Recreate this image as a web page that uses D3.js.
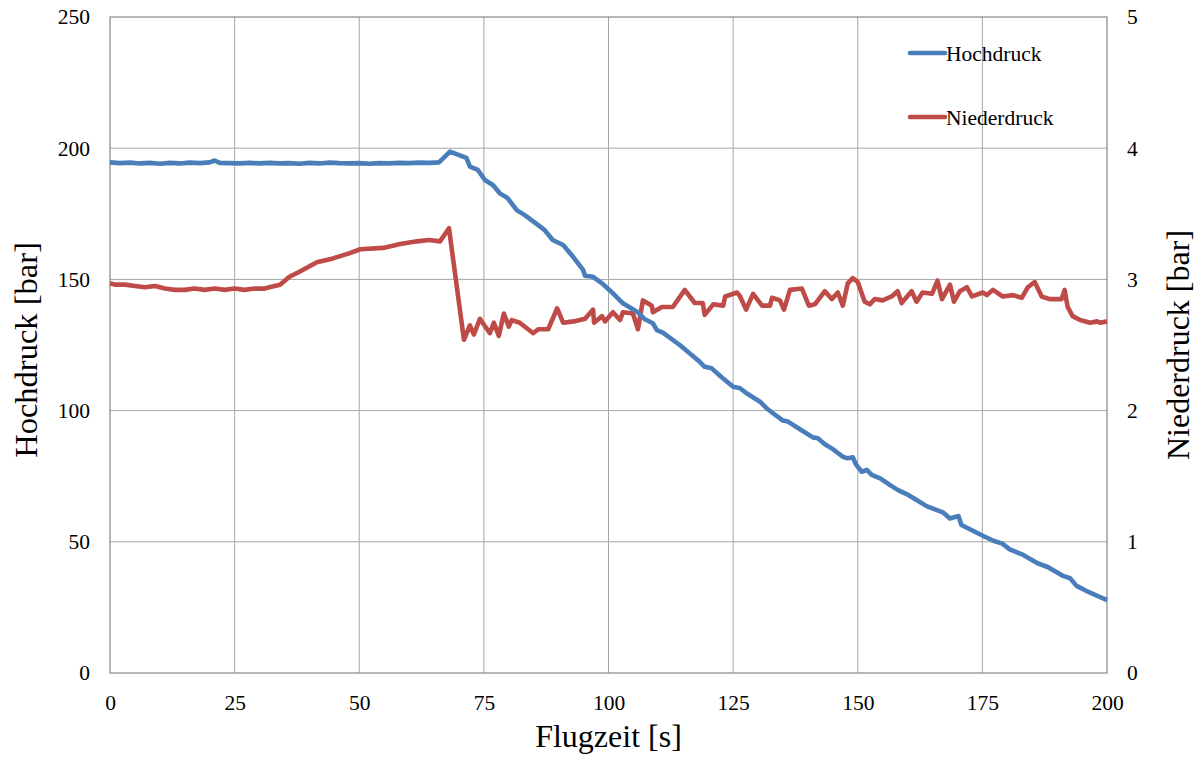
<!DOCTYPE html>
<html>
<head>
<meta charset="utf-8">
<script src="https://cdn.jsdelivr.net/npm/d3@7"></script>
<style>
  body { margin: 0; background: #fff; }
  text { font-family: "Liberation Serif", "Times New Roman", serif; fill: #000; }
</style>
</head>
<body>
<svg id="drawing_region"></svg>
<script>
// Hochdruck (left axis, bar)
const hochTime = [0, 2, 4, 6, 8, 10, 12, 14, 16, 18, 20, 21, 22, 24, 26, 28, 30, 32, 34, 36, 38, 40,
    42, 44, 46, 48, 50, 52, 54, 56, 58, 60, 62, 64, 66, 68.2, 71.5, 72.2, 73.8, 75.2, 76.8, 78.2,
    79.8, 81.6, 83.2, 85.9, 87.2, 88.8, 90.9, 92.9, 94.9, 95.3, 96.9, 98.7, 100.9, 102.9, 105.7,
    107.3, 108.9, 109.7, 110.9, 114.3, 116.5, 118.3, 119.3, 120.7, 122.7, 125, 126.4, 127.7, 130.4,
    131.7, 133, 135, 136, 138.4, 141, 142, 143.4, 145, 147, 148, 149, 149.7, 150.8, 151.8, 152.8,
    154.5, 156.5, 158.1, 159.8, 161.8, 163.8, 167.2, 168.5, 170.2, 170.8, 172.5, 175.2, 177.2,
    178.9, 180.5, 183.2, 185.9, 188.2, 191.2, 192.6, 193.9, 196.6, 200];
const hochValues = [194.6, 194.3, 194.5, 194.2, 194.4, 194.1, 194.4, 194.2, 194.5, 194.3, 194.6, 195.3,
    194.4, 194.3, 194.2, 194.4, 194.2, 194.4, 194.2, 194.3, 194.1, 194.4, 194.2, 194.5, 194.3, 194.2,
    194.3, 194.1, 194.3, 194.2, 194.4, 194.3, 194.5, 194.4, 194.6, 198.7, 196.3, 193.0, 191.7, 187.9,
    186.0, 182.8, 180.9, 176.4, 174.5, 170.7, 168.8, 165.0, 163.1, 158.6, 153.6, 151.4, 151.0, 148.5,
    144.7, 140.9, 137.7, 134.8, 133.3, 130.7, 129.7, 125.0, 121.5, 118.6, 116.7, 116.1, 112.7, 109.1,
    108.5, 106.6, 103.4, 100.9, 99.0, 96.2, 95.8, 92.9, 89.8, 89.5, 87.2, 85.3, 82.4, 81.8, 82.2,
    79.3, 76.7, 77.4, 75.5, 74.2, 71.6, 69.7, 68.2, 65.9, 63.6, 61.1, 58.9, 59.8, 56.4, 54.8, 52.2,
    50.4, 49.4, 47.1, 45.0, 42.0, 40.3, 37.0, 36.1, 33.2, 30.6, 27.8];

// Niederdruck (right axis, bar)
const niederTime = [0, 1, 3, 5, 7, 9, 11, 13, 15, 17, 19, 21, 23, 25, 27, 29, 31, 33, 34.1, 36, 38.1,
    41.5, 44.7, 48.1, 50.2, 54.8, 58.2, 61.6, 64, 66.2, 68, 71, 72.2, 73, 74.2, 76.2, 77, 78, 79, 80,
    80.6, 82.2, 84.9, 85.9, 87.9, 89.7, 90.9, 93, 95.3, 96.9, 97.1, 98.7, 99.3, 100.9, 102.3, 102.9,
    104.9, 105.9, 106.9, 108.7, 108.9, 110.7, 112.9, 115.3, 117.3, 118.9, 119.3, 121, 123, 123.4,
    125.8, 126.4, 127.6, 129, 130.8, 132.4, 132.8, 134.4, 135.2, 136.4, 138.8, 140.2, 141.4, 143.4,
    144.8, 146, 147, 148, 149, 150, 151.4, 152.4, 153.4, 155, 156.8, 158, 158.8, 160.8, 161.8, 163,
    164.9, 166, 166.9, 168.5, 169.3, 170.5, 171.9, 172.9, 175.1, 175.9, 177.1, 179.1, 181.1, 182.9,
    184.1, 185.5, 186.9, 188.5, 190.9, 191.5, 192.1, 193.1, 194.6, 196.6, 198, 198.6, 200];
const niederValues = [2.97, 2.96, 2.96, 2.95, 2.94, 2.95, 2.93, 2.92, 2.92, 2.93, 2.92, 2.93, 2.92,
    2.93, 2.92, 2.93, 2.93, 2.95, 2.96, 3.02, 3.06, 3.13, 3.16, 3.20, 3.23, 3.24, 3.27, 3.29, 3.30,
    3.29, 3.39, 2.54, 2.65, 2.58, 2.70, 2.59, 2.67, 2.57, 2.74, 2.64, 2.69, 2.67, 2.59, 2.62, 2.62,
    2.78, 2.67, 2.68, 2.70, 2.77, 2.67, 2.72, 2.68, 2.75, 2.69, 2.75, 2.74, 2.62, 2.84, 2.80, 2.75,
    2.79, 2.79, 2.92, 2.82, 2.82, 2.73, 2.81, 2.80, 2.87, 2.90, 2.87, 2.77, 2.89, 2.80, 2.80, 2.86,
    2.84, 2.77, 2.92, 2.93, 2.80, 2.81, 2.91, 2.85, 2.90, 2.80, 2.97, 3.01, 2.98, 2.83, 2.81, 2.85,
    2.84, 2.87, 2.91, 2.82, 2.91, 2.83, 2.90, 2.89, 2.99, 2.85, 2.96, 2.83, 2.91, 2.94, 2.87, 2.90,
    2.88, 2.92, 2.87, 2.88, 2.86, 2.94, 2.98, 2.87, 2.85, 2.85, 2.92, 2.79, 2.72, 2.69, 2.67, 2.68,
    2.67, 2.68];

const xTicks = [0, 25, 50, 75, 100, 125, 150, 175, 200];
const yLeftTicks = [0, 50, 100, 150, 200, 250];
const yRightTicks = [0, 1, 2, 3, 4, 5];
const seriesNames = ["Hochdruck", "Niederdruck"];
const seriesColors = ["#4a7ebb", "#be4b48"];

const width = 1201, height = 767;
const margin = {top: 17, right: 94, bottom: 94, left: 110};
const innerW = width - margin.left - margin.right;
const innerH = height - margin.top - margin.bottom;

const svg = d3.select('#drawing_region')
    .attr('width', width)
    .attr('height', height);

const chart = svg.append('g')
    .attr('transform', `translate(${margin.left}, ${margin.top})`);

const xscale = d3.scaleLinear().domain([0, 200]).range([0, innerW]);
const yLeft = d3.scaleLinear().domain([0, 250]).range([innerH, 0]);
const yRight = d3.scaleLinear().domain([0, 5]).range([innerH, 0]);

// gridlines
chart.append('g')
    .selectAll('line.gx').data(xTicks.slice(1, -1))
    .join('line')
    .attr('x1', d => xscale(d)).attr('x2', d => xscale(d))
    .attr('y1', 0).attr('y2', innerH)
    .attr('stroke', '#a6a6a6').attr('stroke-width', 1);

chart.append('g')
    .selectAll('line.gy').data(yLeftTicks.slice(1, -1))
    .join('line')
    .attr('x1', 0).attr('x2', innerW)
    .attr('y1', d => yLeft(d)).attr('y2', d => yLeft(d))
    .attr('stroke', '#a6a6a6').attr('stroke-width', 1);

// frame
chart.append('rect')
    .attr('x', 0).attr('y', 0)
    .attr('width', innerW).attr('height', innerH)
    .attr('fill', 'none')
    .attr('stroke', '#868686').attr('stroke-width', 1.2);

// axes
const xaxis = d3.axisBottom(xscale).tickValues(xTicks).tickSize(0).tickPadding(22);
const yaxisL = d3.axisLeft(yLeft).tickValues(yLeftTicks).tickSize(0).tickPadding(20);
const yaxisR = d3.axisRight(yRight).tickValues(yRightTicks).tickSize(0).tickPadding(20)
    .tickFormat(d3.format('d'));

function styleAxis(g) {
    g.select('.domain').remove();
    g.selectAll('text')
        .style('font-family', '"Liberation Serif", serif')
        .style('font-size', '21.5px')
        .attr('fill', '#000');
}

chart.append('g').attr('transform', `translate(0, ${innerH})`).call(xaxis).call(styleAxis);
chart.append('g').call(yaxisL).call(styleAxis);
chart.append('g').attr('transform', `translate(${innerW}, 0)`).call(yaxisR).call(styleAxis);

// lines
const hochData = hochTime.map((t, i) => ({t: t, v: hochValues[i]}));
const niederData = niederTime.map((t, i) => ({t: t, v: niederValues[i]}));

const lineL = d3.line().x(d => xscale(d.t)).y(d => yLeft(d.v));
const lineR = d3.line().x(d => xscale(d.t)).y(d => yRight(d.v));

chart.append('path')
    .datum(niederData)
    .attr('d', lineR)
    .attr('fill', 'none')
    .attr('stroke', seriesColors[1])
    .attr('stroke-width', 4.6)
    .attr('stroke-linejoin', 'round');

chart.append('path')
    .datum(hochData)
    .attr('d', lineL)
    .attr('fill', 'none')
    .attr('stroke', seriesColors[0])
    .attr('stroke-width', 4.6)
    .attr('stroke-linejoin', 'round');

// axis titles
svg.append('text')
    .attr('x', margin.left + innerW / 2).attr('y', 747)
    .attr('text-anchor', 'middle')
    .style('font-size', '32px')
    .text('Flugzeit [s]');

svg.append('text')
    .attr('transform', `translate(37, ${margin.top + innerH / 2 + 5}) rotate(-90)`)
    .attr('text-anchor', 'middle')
    .style('font-size', '32.5px')
    .text('Hochdruck [bar]');

svg.append('text')
    .attr('transform', `translate(1189, ${margin.top + innerH / 2}) rotate(-90)`)
    .attr('text-anchor', 'middle')
    .style('font-size', '32px')
    .text('Niederdruck [bar]');

// legend
const legend = svg.append('g').attr('transform', 'translate(910, 53)');
const items = legend.selectAll('g').data(seriesNames)
    .join('g')
    .attr('transform', (d, i) => `translate(0, ${i * 64})`);
items.append('line')
    .attr('x1', 0).attr('x2', 35).attr('y1', 0).attr('y2', 0)
    .attr('stroke', (d, i) => seriesColors[i])
    .attr('stroke-width', 4.6)
    .attr('stroke-linecap', 'round');
items.append('text')
    .attr('x', 36).attr('y', 7.5)
    .style('font-size', '21.5px')
    .text(d => d);
</script>
</body>
</html>
